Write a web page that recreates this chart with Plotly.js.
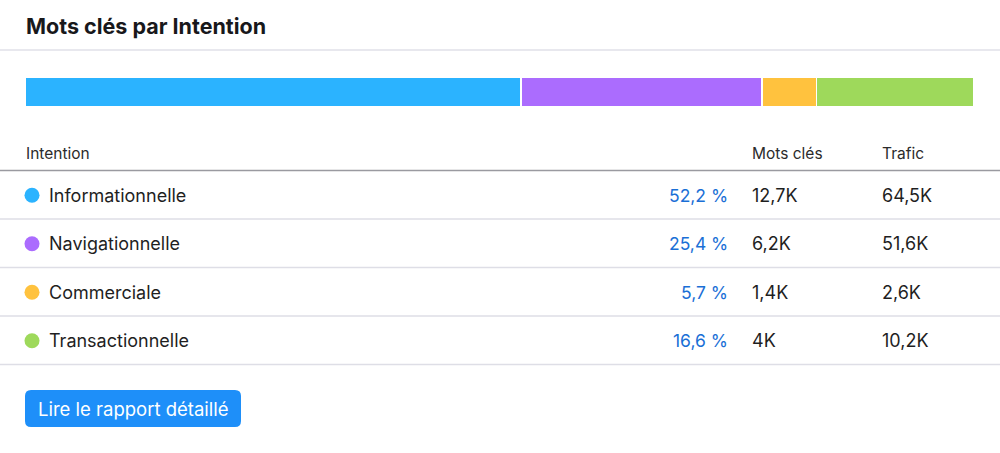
<!DOCTYPE html>
<html>
<head>
<meta charset="utf-8">
<script src="https://cdn.plot.ly/plotly-3.0.1.min.js"></script>
<style>
html,body{margin:0;padding:0;background:#ffffff;}
#chart{width:1000px;height:453px;}
</style>
</head>
<body>
<div id="chart"></div>
<script>
// ---- data ----
const categories = ["Informationnelle", "Navigationnelle", "Commerciale", "Transactionnelle"];
const shares = [52.2, 25.4, 5.7, 16.6];
const shareLabels = ["52,2 %", "25,4 %", "5,7 %", "16,6 %"];
const keywords = ["12,7K", "6,2K", "1,4K", "4K"];
const traffic = ["64,5K", "51,6K", "2,6K", "10,2K"];
const colors = ["#2bb3ff", "#ab6cfe", "#ffc23e", "#9ed95b"];
const headers = ["Intention", "Mots clés", "Trafic"];
const titleText = "Mots clés par Intention";
const buttonText = "Lire le rapport détaillé";

// ---- layout constants (pixels) ----
const W = 1000, H = 453;
const FONT = "Inter, 'Open Sans', sans-serif";
const rowTop = 171, rowH = 48.5;
const rowCenter = i => rowTop + rowH * i + rowH / 2;
const total = shares.reduce((a, b) => a + b, 0);

const traces = [];
// stacked bar
categories.forEach((c, i) => {
  traces.push({
    type: "bar", orientation: "h", y: [0], x: [shares[i]], name: c,
    marker: {color: colors[i], line: {color: "#ffffff", width: 1.5}},
    width: 1, xaxis: "x", yaxis: "y", hoverinfo: "skip", showlegend: false
  });
});
// legend dots
traces.push({
  type: "scatter", mode: "markers", xaxis: "x2", yaxis: "y2",
  x: categories.map(() => 32), y: categories.map((c, i) => rowCenter(i)),
  marker: {color: colors, size: 15, line: {width: 0}},
  hoverinfo: "skip", showlegend: false
});

const ann = [];
const txt = (x, y, t, opts) => Object.assign({
  xref: "x2", yref: "y2", x: x, y: y, text: t, showarrow: false,
  xanchor: "left", yanchor: "middle", borderpad: 0,
  font: {family: FONT, size: 18, color: "#1f1f1f"}
}, opts || {});

ann.push(txt(25, 26, "<b>" + titleText + "</b>", {font: {family: FONT, size: 21.5, color: "#18181b"}}));
ann.push(txt(25, 153, headers[0], {font: {family: FONT, size: 15.5, color: "#2b2b2b"}}));
ann.push(txt(751, 153, headers[1], {font: {family: FONT, size: 15.5, color: "#2b2b2b"}}));
ann.push(txt(881, 153, headers[2], {font: {family: FONT, size: 15.5, color: "#2b2b2b"}}));
categories.forEach((c, i) => {
  const y = rowCenter(i);
  ann.push(txt(48, y, c));
  ann.push(txt(729, y, shareLabels[i], {xanchor: "right", font: {family: FONT, size: 17.5, color: "#1a6fd6"}}));
  ann.push(txt(751, y, keywords[i]));
  ann.push(txt(881, y, traffic[i]));
});
ann.push(txt(133, 409, buttonText, {xanchor: "center", font: {family: FONT, size: 18.5, color: "#ffffff"}}));

const shapes = [];
const line = (y, color, w) => ({type: "line", xref: "x2", yref: "y2", x0: 0, x1: W, y0: y, y1: y, line: {color: color, width: w}, layer: "below"});
shapes.push(line(50, "#e1e1e8", 1.5));
shapes.push(line(170.5, "#9a9aa0", 1.5));
categories.forEach((c, i) => shapes.push(line(rowTop + rowH * (i + 1) - 0.5, "#dedee6", 1.5)));
// button
shapes.push({
  type: "path", xref: "x2", yref: "y2", layer: "below",
  path: "M31,390 L235,390 Q241,390 241,396 L241,421 Q241,427 235,427 L31,427 Q25,427 25,421 L25,396 Q25,390 31,390 Z",
  fillcolor: "#1e8ff9", line: {width: 0}
});

const layout = {
  width: W, height: H, margin: {l: 0, r: 0, t: 0, b: 0},
  paper_bgcolor: "#ffffff", plot_bgcolor: "rgba(0,0,0,0)",
  barmode: "stack", bargap: 0, showlegend: false,
  xaxis: {domain: [25 / W, 974 / W], range: [0, total], visible: false, fixedrange: true, anchor: "y"},
  yaxis: {domain: [1 - 107 / H, 1 - 77 / H], range: [-0.5, 0.5], visible: false, fixedrange: true, anchor: "x"},
  xaxis2: {domain: [0, 1], range: [0, W], visible: false, anchor: "y2", fixedrange: true},
  yaxis2: {domain: [0, 1], range: [H, 0], visible: false, anchor: "x2", fixedrange: true},
  annotations: ann, shapes: shapes
};

Plotly.newPlot("chart", traces, layout, {displayModeBar: false, staticPlot: true});
</script>
</body>
</html>
